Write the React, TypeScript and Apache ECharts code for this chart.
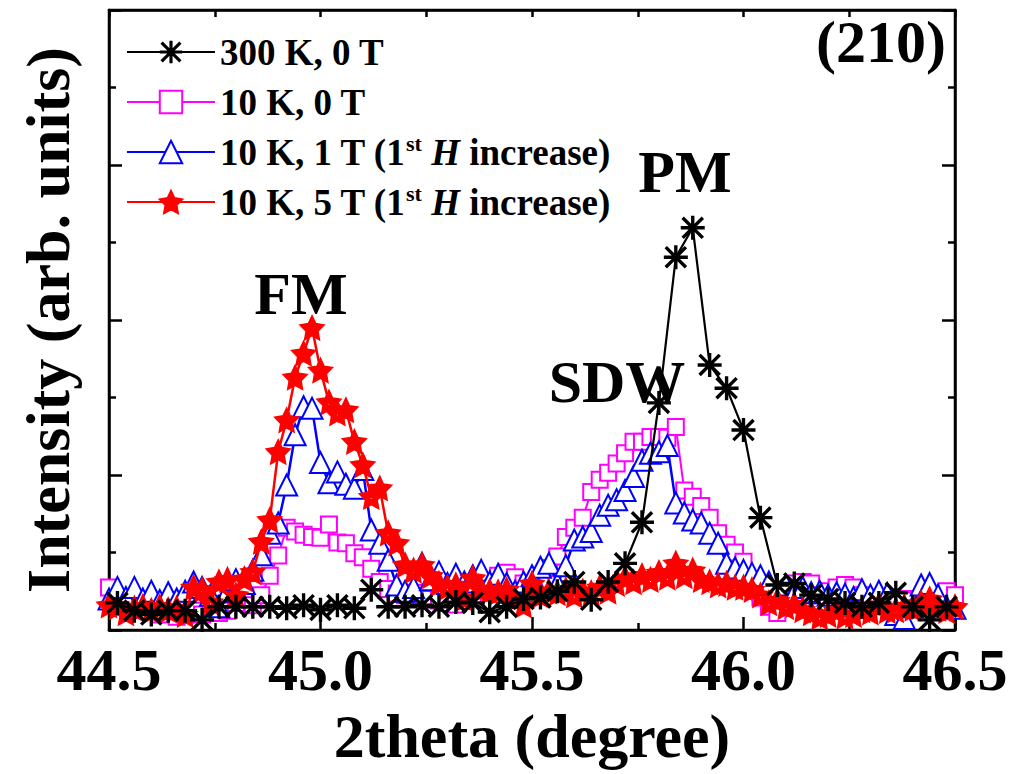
import React, { useEffect, useRef } from "react";
import * as echarts from "echarts";

// ---- data ----
const FINE_START = 44.5;
const FINE_STEP = 0.02;
const COARSE_START = 44.52;
const COARSE_STEP = 0.04;

const series300K0T = [
  0.35, 0.25, 0.2, 0.25, 0.25, 0.13, 0.3, 0.3, 0.3, 0.3,
  0.28, 0.32, 0.26, 0.32, 0.28, 0.52, 0.3, 0.3, 0.32, 0.3,
  0.36, 0.35, 0.23, 0.3, 0.4, 0.42, 0.5, 0.62, 0.39, 0.62,
  0.86, 1.39, 2.93, 4.81, 5.19, 3.42, 3.12, 2.58, 1.45, 0.58,
  0.6, 0.45, 0.4, 0.35, 0.3, 0.35, 0.48, 0.3, 0.13, 0.3,
];

const series10K0T = [
  0.55, 0.4, 0.3, 0.3, 0.35, 0.3, 0.2, 0.25, 0.17, 0.2,
  0.25, 0.2, 0.3, 0.22, 0.25, 0.35, 0.4, 0.32, 0.45, 0.7,
  0.96, 1.32, 1.27, 1.23, 1.2, 1.19, 1.36, 1.13, 1.12, 0.99,
  0.94, 0.79, 0.62, 0.53, 0.47, 0.45, 0.48, 0.44, 0.4, 0.38,
  0.35, 0.33, 0.38, 0.42, 0.6, 0.62, 0.7, 0.74, 0.68, 0.6,
  0.55, 0.62, 0.8, 0.95, 1.2, 1.32, 1.45, 1.78, 1.94, 2.03,
  2.15, 2.28, 2.43, 2.43, 2.49, 2.49, 2.48, 2.62, 1.8, 1.72,
  1.6, 1.45, 1.25, 1.1, 1.0, 0.88, 0.65, 0.42, 0.3, 0.22,
  0.4, 0.6, 0.62, 0.6, 0.45, 0.5, 0.55, 0.58, 0.55, 0.45,
  0.42, 0.4, 0.3, 0.35, 0.4, 0.38, 0.35, 0.4, 0.45, 0.5,
  0.45,
];

const series10K1T = [
  0.4, 0.55, 0.42, 0.55, 0.4, 0.5, 0.38, 0.48, 0.4, 0.5,
  0.62, 0.55, 0.45, 0.3, 0.5, 0.65, 0.6, 0.77, 0.97, 1.25,
  1.38, 1.87, 2.52, 2.88, 2.86, 2.16, 1.9, 2.04, 1.88, 1.83,
  2.07, 1.29, 1.12, 0.9, 0.58, 0.5, 0.55, 0.86, 0.65, 0.75,
  0.6, 0.72, 0.62, 0.7, 0.77, 0.62, 0.72, 0.6, 0.5, 0.62,
  0.7, 0.81, 0.86, 0.6, 0.83, 1.16, 1.2, 1.27, 1.48, 1.61,
  1.68, 1.8, 1.98, 2.19, 2.28, 2.3, 2.38, 1.64, 1.51, 1.42,
  1.38, 1.25, 1.12, 0.86, 0.8, 0.77, 0.73, 0.7, 0.62, 0.5,
  0.58, 0.48, 0.55, 0.48, 0.5, 0.45, 0.48, 0.46, 0.42, 0.52,
  0.45, 0.5, 0.47, 0.2, 0.15, 0.3, 0.58, 0.6, 0.45, 0.3,
  0.28,
];

const series10K5T = [
  0.32, 0.3, 0.22, 0.28, 0.3, 0.25, 0.3, 0.26, 0.28, 0.2,
  0.55, 0.52, 0.36, 0.62, 0.65, 0.45, 0.66, 0.75, 1.14, 1.42,
  2.3, 2.71, 3.26, 3.57, 3.9, 3.35, 2.94, 2.8, 2.84, 2.43,
  2.13, 1.72, 1.83, 1.25, 1.12, 0.84, 0.77, 0.84, 0.7, 0.6,
  0.55, 0.58, 0.41, 0.67, 0.52, 0.5, 0.49, 0.52, 0.4, 0.32,
  0.6, 0.45, 0.5, 0.48, 0.52, 0.45, 0.5, 0.48, 0.55, 0.5,
  0.6, 0.67, 0.62, 0.7, 0.65, 0.74, 0.68, 0.86, 0.7, 0.77,
  0.65, 0.62, 0.58, 0.6, 0.55, 0.55, 0.52, 0.45, 0.35, 0.38,
  0.3, 0.33, 0.26, 0.22, 0.17, 0.2, 0.25, 0.18, 0.2, 0.26,
  0.23, 0.32, 0.25, 0.26, 0.3, 0.28, 0.35, 0.4, 0.28, 0.25,
  0.3,
];

const seriesNames = [
  "300 K, 0 T",
  "10 K, 0 T",
  "10 K, 1 T (1st H increase)",
  "10 K, 5 T (1st H increase)",
];

const xTickLabels = ["44.5", "45.0", "45.5", "46.0", "46.5"];
const annotations = [
  { text: "(210)", x: 881, y: 42 },
  { text: "PM", x: 685, y: 172 },
  { text: "FM", x: 301, y: 294 },
  { text: "SDW", x: 617, y: 382 },
];

// ---- styling helpers ----
const FONT = '"Liberation Serif", "Times New Roman", serif';

const ASTERISK =
  "path://M8.6 0H11.4V20H8.6Z M0 8.6H20V11.4H0Z M2.6 0.6L19.4 17.4L17.4 19.4L0.6 2.6Z M17.4 0.6L19.4 2.6L2.6 19.4L0.6 17.4Z";

const STAR =
  "path://M10 0L12.9 5.9L19.51 6.91L14.7 11.6L15.88 18.09L10 15L4.12 18.09L5.3 11.6L0.49 6.91L7.1 5.9Z M9 9.6V11.4H11V9.6Z";

function pairs(start: number, step: number, ys: number[]) {
  return ys.map((y, i) => [+(start + step * i).toFixed(2), y]);
}

export default function App() {
  const ref = useRef<HTMLDivElement>(null);
  useEffect(() => {
    if (!ref.current) return;
    const chart = echarts.init(ref.current, undefined, { renderer: "svg" });
    const axisLine = { show: true, onZero: false, lineStyle: { color: "#000", width: 2.5 } };
    const tickStyle = { width: 2.5, color: "#000" };
    const option: any = {
      animation: false,
      backgroundColor: "#fff",
      grid: {
        left: 109,
        right: 60,
        top: 10,
        bottom: 144,
        containLabel: false,
        show: true,
        borderColor: "#000",
        borderWidth: 2.5,
        backgroundColor: "transparent",
      },
      legend: {
        orient: "vertical",
        left: 121,
        top: 27,
        itemWidth: 88,
        itemHeight: 28,
        itemGap: 10,
        data: seriesNames,
        formatter: (name: string) =>
          name.replace("(1st H increase)", "(1{sup|st} {it|H} increase)"),
        textStyle: {
          fontFamily: FONT,
          fontWeight: "bold",
          fontSize: 37,
          color: "#000",
          lineHeight: 40,
          rich: {
            sup: {
              fontFamily: FONT,
              fontWeight: "bold",
              fontSize: 22,
              color: "#000",
              verticalAlign: "top",
              lineHeight: 22,
            },
            it: {
              fontFamily: FONT,
              fontWeight: "bold",
              fontStyle: "italic",
              fontSize: 37,
              color: "#000",
              lineHeight: 40,
            },
          },
        },
      },
      xAxis: [
        {
          type: "value",
          position: "bottom",
          min: 44.5,
          max: 46.5,
          interval: 0.5,
          axisLine,
          axisTick: { show: true, inside: true, length: 13, lineStyle: tickStyle },
          minorTick: { show: true, splitNumber: 2, length: 7, lineStyle: tickStyle },
          splitLine: { show: false },
          axisLabel: {
            show: true,
            margin: 10,
            fontFamily: FONT,
            fontWeight: "bold",
            fontSize: 60,
            color: "#000",
            formatter: (v: number) => {
              const i = Math.round((v - 44.5) / 0.5);
              return xTickLabels[i] ?? "";
            },
          },
          name: "2theta (degree)",
          nameLocation: "middle",
          nameGap: 66,
          nameTextStyle: { fontFamily: FONT, fontWeight: "bold", fontSize: 62, color: "#000" },
        },
        {
          type: "value",
          position: "top",
          min: 44.5,
          max: 46.5,
          interval: 0.25,
          axisLine,
          axisTick: { show: true, inside: true, length: 7, lineStyle: tickStyle },
          axisLabel: { show: false },
          splitLine: { show: false },
        },
      ],
      yAxis: [
        {
          type: "value",
          position: "left",
          min: 0,
          max: 8,
          interval: 2,
          axisLine,
          axisTick: { show: true, inside: true, length: 13, lineStyle: tickStyle },
          minorTick: { show: true, splitNumber: 2, length: 7, lineStyle: tickStyle },
          axisLabel: { show: false },
          splitLine: { show: false },
          name: "Intensity (arb. units)",
          nameLocation: "middle",
          nameRotate: 90,
          nameGap: 30,
          nameTextStyle: { fontFamily: FONT, fontWeight: "bold", fontSize: 62, color: "#000" },
        },
        {
          type: "value",
          position: "right",
          min: 0,
          max: 8,
          interval: 2,
          axisLine,
          axisTick: { show: true, inside: true, length: 13, lineStyle: tickStyle },
          minorTick: { show: true, splitNumber: 2, length: 7, lineStyle: tickStyle },
          axisLabel: { show: false },
          splitLine: { show: false },
        },
      ],
      series: [
        {
          name: seriesNames[1],
          type: "line",
          data: pairs(FINE_START, FINE_STEP, series10K0T),
          symbol: "emptyRect",
          symbolSize: 16,
          showAllSymbol: true,
          lineStyle: { color: "#ff00ff", width: 2 },
          itemStyle: { color: "#ff00ff", borderColor: "#ff00ff", borderWidth: 3 },
          z: 2,
        },
        {
          name: seriesNames[2],
          type: "line",
          data: pairs(FINE_START, FINE_STEP, series10K1T),
          symbol: "emptyTriangle",
          symbolSize: 21,
          showAllSymbol: true,
          lineStyle: { color: "#0000ff", width: 2.5 },
          itemStyle: { color: "#0000ff", borderColor: "#0000ff", borderWidth: 3.2 },
          z: 3,
        },
        {
          name: seriesNames[3],
          type: "line",
          data: pairs(FINE_START, FINE_STEP, series10K5T),
          symbol: STAR,
          symbolSize: 24,
          showAllSymbol: true,
          lineStyle: { color: "#ff0000", width: 2.5 },
          itemStyle: { color: "#ff0000", borderColor: "#ff0000", borderWidth: 1.5 },
          z: 4,
        },
        {
          name: seriesNames[0],
          type: "line",
          data: pairs(COARSE_START, COARSE_STEP, series300K0T),
          symbol: ASTERISK,
          symbolSize: 24,
          showAllSymbol: true,
          lineStyle: { color: "#000", width: 2.2 },
          itemStyle: { color: "#000" },
          z: 5,
        },
      ],
      graphic: annotations.map((a) => ({
        type: "text",
        x: a.x,
        y: a.y,
        z: 10,
        style: {
          text: a.text,
          fontFamily: FONT,
          fontWeight: "bold",
          fontSize: 60,
          fill: "#000",
          align: "center",
          verticalAlign: "middle",
        },
      })),
    };
    chart.setOption(option);
    return () => chart.dispose();
  }, []);
  return (
    <div
      ref={ref}
      style={{ position: "fixed", left: 0, top: 0, width: 1015, height: 774, background: "#fff" }}
    />
  );
}
